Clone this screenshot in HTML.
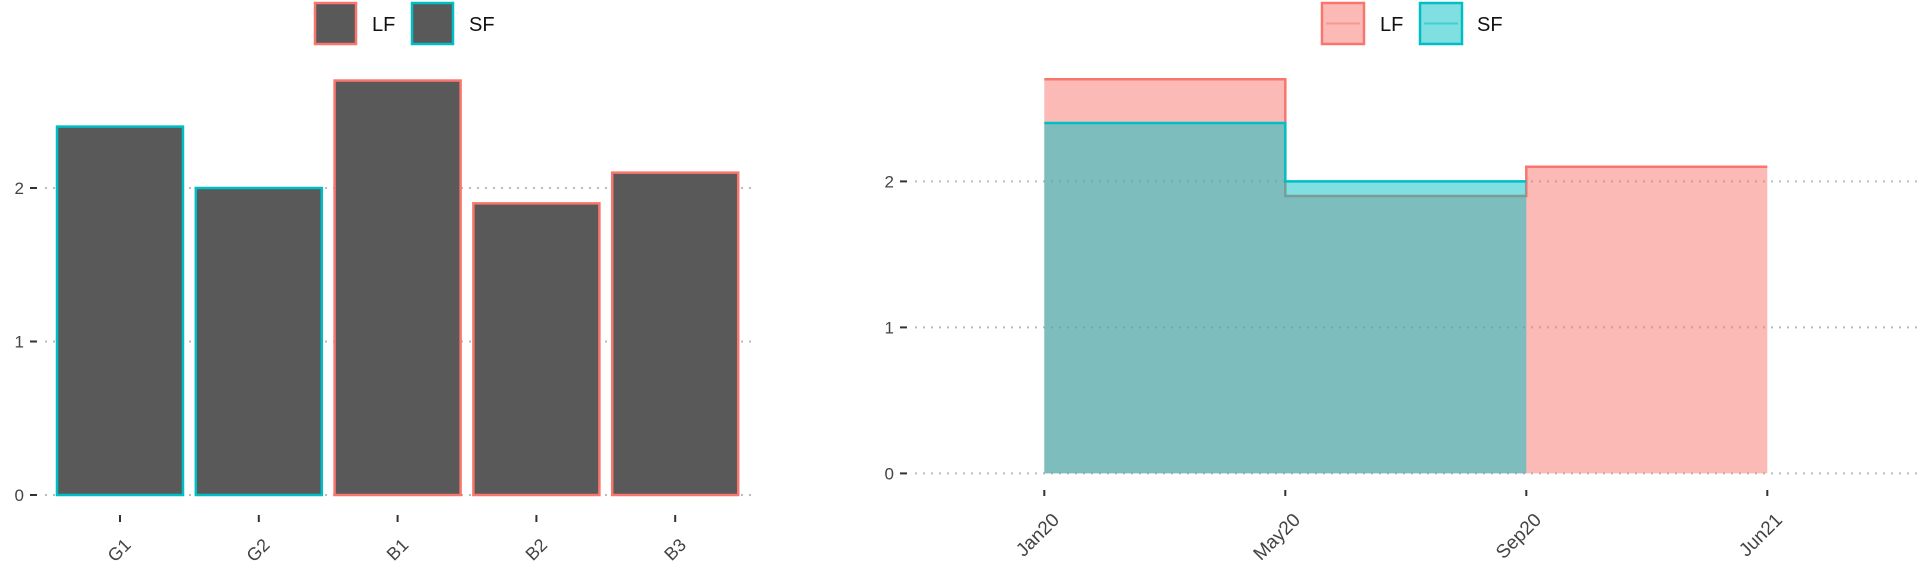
<!DOCTYPE html>
<html><head><meta charset="utf-8"><style>
html,body{margin:0;padding:0;background:#fff}
svg{display:block;font-family:"Liberation Sans",sans-serif}
</style></head><body>
<svg id="c" width="1920" height="576">
<g id="left"></g>
<g id="right"></g>
</svg>
<script>
const barCats=["G1","G2","B1","B2","B3"];
const barVals=[2.4,2.0,2.7,1.9,2.1];
const barGroup=["SF","SF","LF","LF","LF"];
const leftTicks=[0,1,2];
const stepCats=["Jan20","May20","Sep20","Jun21"];
const lfVals=[2.7,1.9,2.1];
const sfVals=[2.4,2.0];
const rightTicks=[0,1,2];
const COL={LF:"#F8766D",SF:"#00BFC4"};
const NS="http://www.w3.org/2000/svg";
function mk(p,t,a){const e=document.createElementNS(NS,t);for(const k in a)e.setAttribute(k,a[k]);p.appendChild(e);return e;}
function txt(p,x,y,s,a){const e=mk(p,"text",Object.assign({x:x,y:y},a));e.textContent=s;return e;}

// LEFT
const L=document.getElementById('left');
const ly=v=>495-v*153.5;
const lx=i=>120+i*138.8;
const bw=126;
leftTicks.forEach(t=>{
  const g=mk(L,"line",{x1:45,x2:757,y1:ly(t),y2:ly(t),stroke:"#bbb","stroke-width":2,"stroke-dasharray":"2 6"});
  
  const tk=mk(L,"line",{x1:30,x2:37,y1:ly(t),y2:ly(t),stroke:"#333","stroke-width":2});
  
  const lb=txt(L,24,ly(t)+6,String(t),{"text-anchor":"end","font-size":17,fill:"#444"});
  
});
barVals.forEach((v,i)=>{
  const r=mk(L,"rect",{x:lx(i)-bw/2,y:ly(v),width:bw,height:ly(0)-ly(v),fill:"#595959",stroke:COL[barGroup[i]],"stroke-width":2.5});
  
  const tk=mk(L,"line",{x1:lx(i),x2:lx(i),y1:515,y2:522,stroke:"#333","stroke-width":2});
  
  const ax=lx(i)+12, ay=546;
  const lb=txt(L,ax,ay,barCats[i],{"text-anchor":"end","font-size":18,fill:"#444",transform:`rotate(-45 ${ax} ${ay})`});
  
});
[["LF",315,372],["SF",412,469]].forEach(([k,bx,tx])=>{
  const r=mk(L,"rect",{x:bx,y:3,width:41,height:41,fill:"#595959",stroke:COL[k],"stroke-width":2.5});
  
  const t=txt(L,tx,31,k,{"font-size":20,fill:"#111"});
  
});

// RIGHT
const R=document.getElementById('right');
const ry=v=>473.4-v*146;
const rx=i=>1044.3+i*241;
rightTicks.forEach(t=>{
  const g=mk(R,"line",{x1:915,x2:1920,y1:ry(t),y2:ry(t),stroke:"#bbb","stroke-width":2,"stroke-dasharray":"2 6"});
  
  const tk=mk(R,"line",{x1:900,x2:907,y1:ry(t),y2:ry(t),stroke:"#333","stroke-width":2});
  
  const lb=txt(R,894,ry(t)+6,String(t),{"text-anchor":"end","font-size":17,fill:"#444"});
  
});
function stepSeries(vals,key){
  let top=`M${rx(0)},${ry(vals[0])}`;
  vals.forEach((v,i)=>{ if(i>0) top+=` L${rx(i)},${ry(v)}`; top+=` L${rx(i+1)},${ry(v)}`; });
  const area=top+` L${rx(vals.length)},${ry(0)} L${rx(0)},${ry(0)} Z`;
  const a=mk(R,"path",{d:area,fill:COL[key],"fill-opacity":0.5,stroke:"none"});
  
  return top;
}
const lfTop=stepSeries(lfVals,"LF");
const l1=mk(R,"path",{d:lfTop,fill:"none",stroke:COL.LF,"stroke-width":2.5});

const sfTop=stepSeries(sfVals,"SF");
const l2=mk(R,"path",{d:sfTop,fill:"none",stroke:COL.SF,"stroke-width":2.5});

stepCats.forEach((c,i)=>{
  const tk=mk(R,"line",{x1:rx(i),x2:rx(i),y1:490,y2:496,stroke:"#333","stroke-width":2});
  
  const ax=rx(i)+16, ay=521;
  const lb=txt(R,ax,ay,c,{"text-anchor":"end","font-size":19,fill:"#444",transform:`rotate(-45 ${ax} ${ay})`});
  
});
[["LF",1322,1380],["SF",1420,1477]].forEach(([k,bx,tx])=>{
  const r=mk(R,"rect",{x:bx,y:3,width:42,height:41,fill:COL[k],"fill-opacity":0.5,stroke:COL[k],"stroke-width":2.5});
  
  const ln=mk(R,"line",{x1:bx+4,x2:bx+38,y1:23.5,y2:23.5,stroke:COL[k],"stroke-width":2,"stroke-opacity":0.5});
  
  const t=txt(R,tx,31,k,{"font-size":20,fill:"#111"});
  
});
</script>
</body></html>
